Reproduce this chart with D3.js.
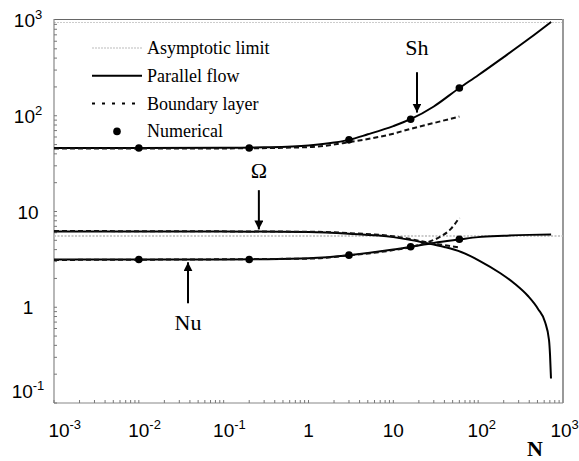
<!DOCTYPE html>
<html>
<head>
<meta charset="utf-8">
<script src="https://cdn.jsdelivr.net/npm/d3@7"></script>
<style>
body { margin: 0; background: #fff; }
text { font-family: "Liberation Serif", "Times New Roman", serif; }
.tick-label { font-family: "Liberation Sans", Arial, sans-serif; font-size: 19px; }
</style>
</head>
<body>
<svg id="chart" width="579" height="461"></svg>
<script>
// values (N on x, Sh / Omega / Nu on y)
const shParallelN = [0.001, 0.01, 0.1, 0.3, 1, 2, 3, 5, 10, 16, 30, 60, 100, 200, 400, 724]
const shParallel  = [46, 46, 46.2, 46.8, 49, 52.5, 56, 64, 78, 92, 125, 195, 265, 410, 640, 955]

const shBoundaryN = [0.001, 0.1, 1, 3, 10, 16, 30, 60]
const shBoundary  = [45.5, 45.6, 47, 53, 65, 73, 84, 98]

const omParallelN = [0.001, 0.1, 1, 3, 10, 24, 40, 63, 105, 181, 272, 387, 508, 614, 684, 703, 722]
const omParallel  = [6.2, 6.2, 6.1, 5.85, 5.4, 4.7, 4.26, 3.78, 3.04, 2.28, 1.75, 1.31, 0.96, 0.70, 0.455, 0.32, 0.18]

const omBoundaryN = [0.001, 1, 3, 10, 16, 25, 40, 60]
const omBoundary  = [6.25, 6.15, 5.95, 5.5, 5.15, 4.75, 4.45, 4.2]

const nuParallelN = [0.001, 0.1, 0.3, 1, 3, 10, 16, 30, 60, 100, 200, 400, 724]
const nuParallel  = [3.15, 3.15, 3.17, 3.25, 3.5, 4.0, 4.28, 4.7, 5.1, 5.4, 5.58, 5.7, 5.75]

const nuBoundaryN = [0.001, 1, 3, 10, 16, 25, 35, 47, 60]
const nuBoundary  = [3.12, 3.22, 3.48, 3.95, 4.25, 4.75, 5.4, 6.5, 8.6]

const asymptoticN = [0.001, 1000]
const asymptotic  = [5.55, 5.55]

const numericalN  = [0.01, 0.2, 3, 16, 60]
const numericalSh = [46, 46, 56, 92, 195]
const numericalNu = [3.15, 3.15, 3.5, 4.28, 5.13]

const xTicks = [1e-3, 1e-2, 1e-1, 1, 10, 100, 1000]
const xTickLabels = [['10', '-3'], ['10', '-2'], ['10', '-1'], ['1', ''], ['10', ''], ['10', '2'], ['10', '3']]
const yTicks = [0.1, 1, 10, 100, 1000]
const yTickLabels = [['10', '-1'], ['1', ''], ['10', ''], ['10', '2'], ['10', '3']]

const legendNames = ['Asymptotic limit', 'Parallel flow', 'Boundary layer', 'Numerical']

// annotations: [label, N, label y, arrow start y, arrow tip y]
const annotations = [
    ['Sh', 19, 430, 285, 108],
    ['\u03A9', 0.26, 22.4, 16.7, 6.5],
    ['Nu', 0.038, 0.58, 1.1, 2.95]
]

const svg = d3.select('#chart')
const plotLeft = 54, plotRight = 563, plotTop = 20, plotBottom = 403

const x = d3.scaleLog().domain([1e-3, 1e3]).range([plotLeft, plotRight])
const y = d3.scaleLog().domain([0.1, 1000]).range([plotBottom, plotTop])

const pair = (ns, vs) => ns.map((n, i) => [n, vs[i]])

const line = d3.line()
    .x(d => x(d[0]))
    .y(d => y(d[1]))
    .curve(d3.curveMonotoneX)

// frame
svg.append('line')
    .attr('x1', plotLeft).attr('x2', plotRight).attr('y1', plotTop - 0.5).attr('y2', plotTop - 0.5)
    .attr('stroke', '#666').attr('stroke-width', 1.2)
svg.append('line')
    .attr('x1', plotLeft).attr('x2', plotRight).attr('y1', plotTop + 2.5).attr('y2', plotTop + 2.5)
    .attr('stroke', '#ccc').attr('stroke-width', 1).attr('stroke-dasharray', '2,1')
svg.append('line')
    .attr('x1', plotRight).attr('x2', plotRight).attr('y1', plotTop - 1).attr('y2', plotBottom)
    .attr('stroke', '#999').attr('stroke-width', 2)
svg.append('line')
    .attr('x1', plotLeft).attr('x2', plotLeft).attr('y1', plotTop - 1).attr('y2', plotBottom)
    .attr('stroke', '#888').attr('stroke-width', 1.2)
svg.append('line')
    .attr('x1', plotLeft).attr('x2', plotRight).attr('y1', plotBottom).attr('y2', plotBottom)
    .attr('stroke', '#888').attr('stroke-width', 1.2)

// minor + major ticks, pointing inwards
const minorX = []
for (let e = -3; e < 3; e++) for (let k = 1; k < 10; k++) minorX.push(k * Math.pow(10, e))
svg.append('g').selectAll('line')
    .data(minorX)
    .enter()
    .append('line')
    .attr('x1', d => x(d)).attr('x2', d => x(d))
    .attr('y1', plotBottom).attr('y2', plotBottom - 3)
    .attr('stroke', '#777').attr('stroke-width', 1)

const minorY = []
for (let e = -1; e < 3; e++) for (let k = 1; k < 10; k++) minorY.push(k * Math.pow(10, e))
svg.append('g').selectAll('line')
    .data(minorY)
    .enter()
    .append('line')
    .attr('x1', plotLeft).attr('x2', plotLeft + 3)
    .attr('y1', d => y(d)).attr('y2', d => y(d))
    .attr('stroke', '#777').attr('stroke-width', 1)

// tick labels (10 with superscript exponent)
function tickLabel(g, parts) {
    g.append('tspan').text(parts[0])
    if (parts[1]) {
        g.append('tspan')
            .attr('font-size', 13)
            .attr('dy', -8)
            .text(parts[1])
    }
}

svg.append('g').selectAll('text')
    .data(xTicks)
    .enter()
    .append('text')
    .attr('class', 'tick-label')
    .attr('x', (d, i) => {
        let px = x(d)
        if (i == 0) px += 5
        // last label pulled in so it stays inside the picture
        if (i == xTicks.length - 1) px -= 2
        return px - (xTickLabels[i][0].length * 5.3)
    })
    .attr('y', 437)
    .each(function(d, i) { tickLabel(d3.select(this), xTickLabels[i]) })

svg.append('g').selectAll('text')
    .data(yTicks)
    .enter()
    .append('text')
    .attr('class', 'tick-label')
    .attr('text-anchor', 'middle')
    .attr('x', 28)
    .attr('y', (d, i) => {
        let py = y(d) + 7
        if (i == 0) py -= 12
        return py
    })
    .each(function(d, i) { tickLabel(d3.select(this), yTickLabels[i]) })

svg.append('text')
    .attr('x', 535).attr('y', 456)
    .attr('text-anchor', 'middle')
    .attr('font-size', 22)
    .attr('font-weight', 'bold')
    .text('N')

// curves
svg.append('path')
    .datum(pair(asymptoticN, asymptotic))
    .attr('d', line)
    .attr('fill', 'none').attr('stroke', '#bbb').attr('stroke-width', 1.5)
    .attr('stroke-dasharray', '2,1.5')

const parallel = [pair(shParallelN, shParallel), pair(omParallelN, omParallel), pair(nuParallelN, nuParallel)]
const boundary = [pair(shBoundaryN, shBoundary), pair(omBoundaryN, omBoundary), pair(nuBoundaryN, nuBoundary)]

svg.append('g').selectAll('path')
    .data(parallel)
    .enter()
    .append('path')
    .attr('d', line)
    .attr('fill', 'none').attr('stroke', '#000').attr('stroke-width', 2)

svg.append('g').selectAll('path')
    .data(boundary)
    .enter()
    .append('path')
    .attr('d', line)
    .attr('fill', 'none').attr('stroke', '#111').attr('stroke-width', 2)
    .attr('stroke-dasharray', '5,3')

const points = pair(numericalN, numericalSh).concat(pair(numericalN, numericalNu))
svg.append('g').selectAll('circle')
    .data(points)
    .enter()
    .append('circle')
    .attr('cx', d => x(d[0])).attr('cy', d => y(d[1]))
    .attr('r', 3.8)
    .attr('fill', '#000')

// arrows
svg.append('defs').append('marker')
    .attr('id', 'head')
    .attr('viewBox', '0 0 10 10')
    .attr('refX', 10).attr('refY', 5)
    .attr('markerWidth', 4.5).attr('markerHeight', 4.5)
    .attr('markerUnits', 'strokeWidth')
    .attr('orient', 'auto')
    .append('path')
    .attr('d', 'M0,0 L10,5 L0,10 Z')
    .attr('fill', '#000')

const ann = svg.append('g').selectAll('g')
    .data(annotations)
    .enter()
    .append('g')

ann.append('line')
    .attr('x1', d => x(d[1])).attr('x2', d => x(d[1]))
    .attr('y1', d => y(d[3])).attr('y2', d => y(d[4]))
    .attr('stroke', '#000').attr('stroke-width', 2)
    .attr('marker-end', 'url(#head)')

ann.append('text')
    .attr('x', d => x(d[1])).attr('y', d => y(d[2]))
    .attr('text-anchor', 'middle')
    .attr('font-size', 22)
    .text(d => d[0])

// legend
const legend = svg.append('g').selectAll('g')
    .data(legendNames)
    .enter()
    .append('g')
    .attr('transform', (d, i) => 'translate(0,' + (48 + i * 27.8) + ')')

legend.append('text')
    .attr('x', 147).attr('y', 6)
    .attr('font-size', 18)
    .text(d => d)

legend.filter((d, i) => i < 3)
    .append('line')
    .attr('x1', 92).attr('x2', 142)
    .attr('stroke', (d, i) => i == 0 ? '#bbb' : '#000')
    .attr('stroke-width', (d, i) => i == 0 ? 1.2 : 2)
    .attr('stroke-dasharray', (d, i) => i == 0 ? '2,1' : (i == 2 ? '3,7' : null))

legend.filter((d, i) => i == 3)
    .append('circle')
    .attr('cx', 117).attr('r', 3.8)
    .attr('fill', '#000')
</script>
</body>
</html>
